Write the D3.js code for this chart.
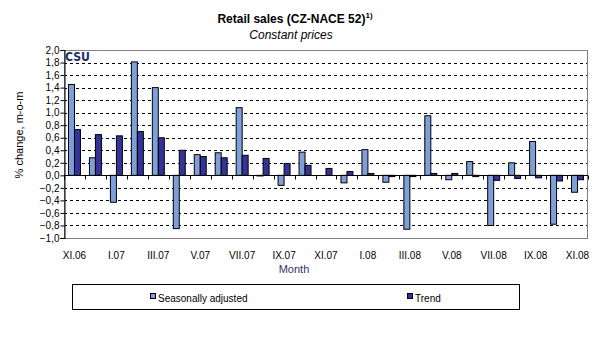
<!DOCTYPE html>
<meta charset="utf-8">
<head>
    <title>Retail sales (CZ-NACE 52)</title>
    <script type="text/javascript" src="https://cdn.jsdelivr.net/npm/d3@7"></script>
    <style type="text/css">
        body { margin: 0; background: #fff; }
        svg text { font-family: "Liberation Sans", Arial, sans-serif; }
    </style>
</head>
<body>
    <div id="chart"></div>
    <script>
        // data
        var months = ["XI.06", "XII.06", "I.07", "II.07", "III.07", "IV.07", "V.07", "VI.07",
                      "VII.07", "VIII.07", "IX.07", "X.07", "XI.07", "XII.07", "I.08", "II.08",
                      "III.08", "IV.08", "V.08", "VI.08", "VII.08", "VIII.08", "IX.08", "X.08", "XI.08"];
        var seasAdj = [1.45, 0.28, -0.43, 1.81, 1.40, -0.85, 0.33, 0.36, 1.08, -0.01, -0.16, 0.37, 0.0,
                       -0.12, 0.41, -0.11, -0.86, 0.95, -0.07, 0.22, -0.80, 0.20, 0.54, -0.78, -0.27];
        var trend = [0.73, 0.65, 0.63, 0.70, 0.60, 0.40, 0.30, 0.28, 0.32, 0.27, 0.19, 0.16, 0.11,
                     0.06, 0.03, -0.02, -0.02, 0.03, 0.03, -0.02, -0.08, -0.05, -0.04, -0.09, -0.07];
        var yTicks = [-1.0, -0.8, -0.6, -0.4, -0.2, 0.0, 0.2, 0.4, 0.6, 0.8, 1.0, 1.2, 1.4, 1.6, 1.8, 2.0];
        var seriesNames = ["Seasonally adjusted", "Trend"];
        var seriesColors = ["#7f9fd8", "#333399"];

        var width = 593, height = 360;
        var plot = {left: 64, right: 588, top: 50, bottom: 238};

        var svg = d3.select("#chart").append("svg")
            .attr("width", width)
            .attr("height", height);

        var x = d3.scaleBand()
            .domain(d3.range(months.length))
            .range([plot.left, plot.right]);
        // two bars per month, gap 150% of a bar
        var inner = d3.scaleBand()
            .domain([0, 1])
            .range([x.bandwidth() * 0.75 / 3.5, x.bandwidth() - x.bandwidth() * 0.75 / 3.5]);
        var y = d3.scaleLinear()
            .domain([-1, 2])
            .range([plot.bottom, plot.top]);

        var fmt = d3.format(".1f");

        // dashed grid
        svg.append("g").selectAll("line")
            .data(yTicks.filter(function(d){ return d !== 0 && d !== -1 && d !== 2; }))
            .enter().append("line")
            .attr("x1", plot.left).attr("x2", plot.right)
            .attr("y1", function(d){ return Math.round(y(d)) + 0.5; })
            .attr("y2", function(d){ return Math.round(y(d)) + 0.5; })
            .attr("stroke", "#000")
            .attr("stroke-dasharray", "3,3");

        // plot frame
        svg.append("rect")
            .attr("x", plot.left + 0.5).attr("y", plot.top + 0.5)
            .attr("width", plot.right - plot.left - 1)
            .attr("height", plot.bottom - plot.top)
            .attr("fill", "none")
            .attr("stroke", "#808080");

        // bars
        var data = [seasAdj, trend];
        data.forEach(function(vals, s){
            svg.append("g").selectAll("rect")
                .data(vals)
                .enter().append("rect")
                .attr("x", function(d, i){ return x(i) + inner(s); })
                .attr("width", inner.bandwidth())
                .attr("y", function(d){ return y(Math.max(0, d)); })
                .attr("height", function(d){ return Math.abs(y(d) - y(0)); })
                .attr("fill", seriesColors[s])
                .attr("stroke", "#000")
                .attr("stroke-width", 1);
        });

        // y axis
        var yAxis = d3.axisLeft(y)
            .tickValues(yTicks)
            .tickSize(4)
            .tickFormat(function(d){ return fmt(d).replace(".", ","); });
        var gy = svg.append("g")
            .attr("transform", "translate(" + (plot.left + 0.5) + ",0)")
            .call(yAxis);
        gy.select(".domain").attr("stroke", "#000");
        gy.selectAll("text").style("font-size", "10px").attr("fill", "#000").attr("x", -5);

        // zero line with category ticks
        var y0 = Math.round(y(0)) + 0.5;
        svg.append("line")
            .attr("x1", plot.left).attr("x2", plot.right)
            .attr("y1", y0).attr("y2", y0)
            .attr("stroke", "#000");
        svg.append("g").selectAll("line")
            .data(d3.range(months.length + 1))
            .enter().append("line")
            .attr("x1", function(i){ return Math.round(plot.left + i * x.step()) + 0.5; })
            .attr("x2", function(i){ return Math.round(plot.left + i * x.step()) + 0.5; })
            .attr("y1", y0).attr("y2", y0 + 4)
            .attr("stroke", "#000");

        // month labels, every other one
        svg.append("g").selectAll("text")
            .data(months.map(function(m, i){ return {m: m, i: i}; }).filter(function(d){ return d.i % 2 === 0; }))
            .enter().append("text")
            .attr("x", function(d){ return x(d.i) + x.bandwidth() / 2; })
            .attr("y", 259)
            .attr("text-anchor", "middle")
            .style("font-size", "10px")
            .text(function(d){ return d.m; });

        // axis titles
        svg.append("text")
            .attr("x", 294).attr("y", 273)
            .attr("text-anchor", "middle")
            .style("font-size", "11px")
            .attr("fill", "#333366")
            .text("Month");
        svg.append("text")
            .attr("transform", "translate(23,135) rotate(-90)")
            .attr("text-anchor", "middle")
            .style("font-size", "11px")
            .text("% change, m-o-m");

        // titles
        var title = svg.append("text")
            .attr("x", 295).attr("y", 23)
            .attr("text-anchor", "middle")
            .style("font-size", "12px")
            .style("font-weight", "bold");
        title.append("tspan").text("Retail sales (CZ-NACE 52)");
        title.append("tspan").attr("dy", -5).style("font-size", "8px").text("1)");
        svg.append("text")
            .attr("x", 291).attr("y", 39)
            .attr("text-anchor", "middle")
            .style("font-size", "12px")
            .style("font-style", "italic")
            .text("Constant prices");

        // logo
        svg.append("text")
            .attr("x", 65).attr("y", 61)
            .style("font-size", "13px")
            .style("font-weight", "bold")
            .style("font-family", "'DejaVu Sans', sans-serif")
            .attr("fill", "#1a2f66")
            .attr("textLength", 25)
            .attr("lengthAdjust", "spacingAndGlyphs")
            .text("CSU");

        // legend
        svg.append("rect")
            .attr("x", 72.5).attr("y", 284.5)
            .attr("width", 447).attr("height", 25)
            .attr("fill", "none")
            .attr("stroke", "#000");
        var legendX = [150, 407];
        seriesNames.forEach(function(name, s){
            svg.append("rect")
                .attr("x", legendX[s] + 0.5).attr("y", 293.5)
                .attr("width", 5).attr("height", 5)
                .attr("fill", seriesColors[s])
                .attr("stroke", "#000");
            svg.append("text")
                .attr("x", legendX[s] + 8).attr("y", 302)
                .style("font-size", "10px")
                .text(name);
        });
    </script>
</body>
</html>
